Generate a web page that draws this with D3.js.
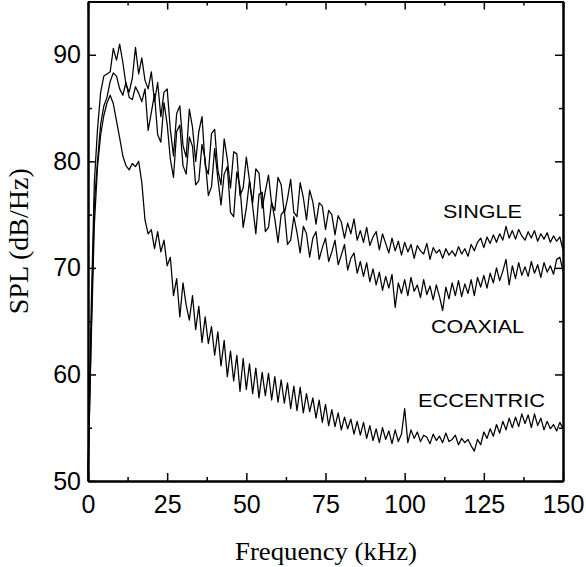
<!DOCTYPE html>
<html>
<head>
<meta charset="utf-8">
<script src="https://cdn.jsdelivr.net/npm/d3@7"></script>
<style>
  body { margin: 0; background: #fff; }
  svg { display: block; }
</style>
</head>
<body>
<svg id="chart" width="586" height="567"></svg>
<script>
// spectra sampled every 1 kHz, 0..150 kHz (dB/Hz)
const freqStep = 1;

const single = [
  51, 66, 78, 83, 86.5, 88, 88.2, 88.4, 90.6, 89.5,
  91, 89.3, 87.2, 86.5, 87.8, 90.7, 88.2, 89.7, 87.6, 86.8,
  88.4, 85.6, 87.4, 84.2, 86.5, 86.8, 83, 80.5, 84.5, 85.2,
  81.5, 80.4, 84.9, 83.2, 80, 82.8, 84.2, 79.6, 78.8, 82.6,
  83, 79.2, 77.8, 82.1, 80.2, 77.5, 80.9, 80.7, 76.8, 77.5,
  80.4, 78.2, 76.1, 79.3, 78.9, 75.6, 77.2, 78.7, 76, 75.4,
  78.5, 77.8, 75.1, 76.5, 78.3, 75.2, 74.8, 78, 76.6, 74.5,
  77.3, 76.2, 74.1, 76.1, 75.8, 73.6, 75.4, 75, 73.1, 74.9,
  74.3, 72.8, 74.2, 73.2, 74.6, 72.6, 73.5, 72.4, 73.8, 72.1,
  72.9, 73.4, 71.7, 73.2, 72.3, 71.4, 72.8, 71.6, 72.5, 71.2,
  72.4, 71.5, 72.2, 70.9, 72.1, 71.6, 71.3, 72.3, 70.8, 71.9,
  71.4, 71.7, 70.9, 71.8, 71.2, 71.6, 71.1, 72, 71.3, 71.8,
  71.1, 72.2, 71.6, 72.4, 72.8, 71.9, 72.9, 72.3, 73.1, 72.4,
  73.2, 72.6, 73.9, 72.8, 73.5, 72.7, 73.6, 73, 72.6, 73.4,
  72.8, 73.5, 72.5, 73.2, 72.7, 73.3, 72.4, 73, 72.5, 72.9,
  71.7
];

const coaxial = [
  50, 64, 76, 80, 83.5, 85.2, 86, 87.5, 88.3, 88,
  86.8, 86.2, 87.4, 86, 85.8, 87, 86.4, 85.6, 86.8, 82.9,
  84.6, 86.3, 82.5, 81.8, 85.5, 83.5, 80.2, 78.5, 82.8, 83.4,
  79.6, 78.8, 82.3, 81.4, 77.8, 78.2, 81.6, 80.2, 76.8, 77.6,
  81.2, 78.4, 75.9, 78.8, 79.5, 75.2, 74.8, 79, 77.6, 73.8,
  75.6, 78.2, 75.8, 73.2, 76.9, 77.1, 73.4, 73.8, 76.2, 74.6,
  72.4, 75, 75.4, 72.2, 72.6, 74.8, 73.3, 71.4, 73.9, 73.2,
  71, 72.8, 73.4, 70.8, 71.9, 72.8, 70.6, 71.5, 72.6, 70.3,
  71.2, 72.2, 69.8, 70.9, 71.4, 69.5, 70.6, 69.2, 70.5, 68.7,
  69.9, 68.4, 69.6, 67.9, 69.2, 68.1, 69.4, 66.3, 68.6, 67.6,
  68.9, 67.4, 69.1, 67.8, 68.4, 67.2, 68.9, 67.5, 68.3, 67,
  68.4, 67.3, 66, 68.2, 67.1, 68.6, 67.4, 68.8, 67.3, 68.5,
  67.6, 68.9, 67.4, 69.1, 68.2, 69.3, 68.1, 69.5, 68.6, 70,
  68.8, 69.7, 70.8, 68.4, 70.2, 69, 70.5, 69.3, 70.1, 69.2,
  70.6, 69.5, 70.3, 69.1, 70.5, 69.6, 70.2, 69.4, 70.8, 71,
  69.7
];

const eccentric = [
  50.5, 63, 74, 79.5, 82.5, 84.3, 85.5, 86.2, 85.4, 83.8,
  82.2, 80.5, 79.6, 79.2, 79.8, 79.5, 80, 78, 74.5, 73.2,
  73.6, 71.8, 73.4, 71.5, 72.6, 70.2, 71, 67.4, 69, 65.4,
  68.6, 66.5, 65.1, 67.4, 64.2, 66.4, 63, 65.4, 62.9, 64.5,
  61.8, 64, 60.8, 63.2, 59.8, 62.2, 59.4, 61.8, 58.4, 61.5,
  58.6, 61, 58.2, 60.6, 57.8, 60.2, 58, 60.1, 57.6, 59.8,
  57.4, 59.5, 57.3, 59.2, 56.8, 58.9, 56.6, 58.8, 56.4, 58.2,
  56.5, 57.8, 55.9, 57.6, 55.5, 57.2, 55.2, 56.7, 55.1, 56.4,
  54.8, 56, 54.9, 55.8, 54.4, 55.6, 54.3, 55.5, 54, 55.2,
  53.8, 54.9, 53.6, 55, 53.9, 54.7, 53.5, 54.8, 53.7, 54.4,
  56.8, 53.6, 54.8, 54, 54.6, 53.7, 54.3, 54.1, 53.5, 54.4,
  53.8, 54.2, 53.6, 54.5, 53.7, 53.9, 54.3, 53.4, 54, 53.6,
  53.9, 53.3, 52.8, 53.9, 53.4, 54.6, 54, 54.9, 54.2, 55.3,
  54.5, 55.6, 54.8, 55.9, 55, 56, 55.1, 56.3, 55.4, 56.2,
  55, 56.3, 55.2, 55.9, 54.8, 55.6, 54.9, 55.3, 54.7, 55.5,
  54.9
];

const seriesNames = ["SINGLE", "COAXIAL", "ECCENTRIC"];
const xTicks = [0, 25, 50, 75, 100, 125, 150];
const xMinorTicks = [12.5, 37.5, 62.5, 87.5, 112.5, 137.5];
const yTicks = [50, 60, 70, 80, 90];
const yMinorTicks = [55, 65, 75, 85, 95];

const svg = d3.select("#chart");
const margin = {top: 1.5, right: 23, bottom: 86, left: 88};
const W = 586, H = 567;
const innerW = W - margin.left - margin.right;
const innerH = H - margin.top - margin.bottom;

const x = d3.scaleLinear().domain([0, 150]).range([0, innerW]);
const y = d3.scaleLinear().domain([50, 95]).range([innerH, 0]);

const g = svg.append("g")
  .attr("transform", "translate(" + margin.left + "," + margin.top + ")");

// curves
const line = d3.line()
  .x(function(d, i) { return x(i * freqStep); })
  .y(function(d) { return y(d); });

[single, coaxial, eccentric].forEach(function(s) {
  g.append("path")
    .datum(s)
    .attr("fill", "none")
    .attr("stroke", "#000")
    .attr("stroke-width", 1.25)
    .attr("stroke-linejoin", "round")
    .attr("d", line);
});

// axes, ticks pointing inward on all four sides
function styleAxis(sel) {
  sel.select(".domain").attr("stroke", "#000").attr("stroke-width", 2);
  sel.selectAll(".tick line").attr("stroke", "#000").attr("stroke-width", 1.5);
  sel.selectAll(".tick text")
    .attr("fill", "#000")
    .style("font-family", "'Liberation Sans', Arial, sans-serif")
    .style("font-size", "25px");
}

g.append("g")
  .attr("transform", "translate(0," + innerH + ")")
  .call(d3.axisBottom(x).tickValues(xTicks).tickSizeInner(-8).tickSizeOuter(0).tickPadding(14))
  .call(styleAxis);
g.append("g")
  .attr("transform", "translate(0," + innerH + ")")
  .call(d3.axisBottom(x).tickValues(xMinorTicks).tickSizeInner(-4).tickSizeOuter(0).tickFormat(""))
  .call(styleAxis);
g.append("g")
  .call(d3.axisTop(x).tickValues(xTicks).tickSizeInner(-8).tickSizeOuter(0).tickFormat(""))
  .call(styleAxis);
g.append("g")
  .call(d3.axisTop(x).tickValues(xMinorTicks).tickSizeInner(-4).tickSizeOuter(0).tickFormat(""))
  .call(styleAxis);

g.append("g")
  .call(d3.axisLeft(y).tickValues(yTicks).tickSizeInner(-8).tickSizeOuter(0).tickPadding(7))
  .call(styleAxis);
g.append("g")
  .call(d3.axisLeft(y).tickValues(yMinorTicks).tickSizeInner(-4).tickSizeOuter(0).tickFormat(""))
  .call(styleAxis);
g.append("g")
  .attr("transform", "translate(" + innerW + ",0)")
  .call(d3.axisRight(y).tickValues(yTicks).tickSizeInner(-8).tickSizeOuter(0).tickFormat(""))
  .call(styleAxis);
g.append("g")
  .attr("transform", "translate(" + innerW + ",0)")
  .call(d3.axisRight(y).tickValues(yMinorTicks).tickSizeInner(-4).tickSizeOuter(0).tickFormat(""))
  .call(styleAxis);

// series labels, anchored in data units
const labelPos = [
  {f: 112.1, v: 74.7, len: 79},
  {f: 108.3, v: 63.9, len: 93},
  {f: 104.2, v: 56.9, len: 127}
];
seriesNames.forEach(function(name, i) {
  g.append("text")
    .attr("x", x(labelPos[i].f))
    .attr("y", y(labelPos[i].v))
    .attr("textLength", labelPos[i].len)
    .attr("lengthAdjust", "spacingAndGlyphs")
    .style("font-family", "'Liberation Sans', Arial, sans-serif")
    .style("font-size", "19px")
    .text(name);
});

// axis titles
svg.append("text")
  .attr("x", 235)
  .attr("y", 560)
  .attr("textLength", 182)
  .attr("lengthAdjust", "spacingAndGlyphs")
  .style("font-family", "'Liberation Serif', 'Times New Roman', serif")
  .style("font-size", "25px")
  .text("Frequency (kHz)");

svg.append("text")
  .attr("transform", "translate(28," + (margin.top + innerH / 2) + ") rotate(-90)")
  .attr("text-anchor", "middle")
  .style("font-family", "'Liberation Serif', 'Times New Roman', serif")
  .style("font-size", "28px")
  .text("SPL (dB/Hz)");
</script>
</body>
</html>
